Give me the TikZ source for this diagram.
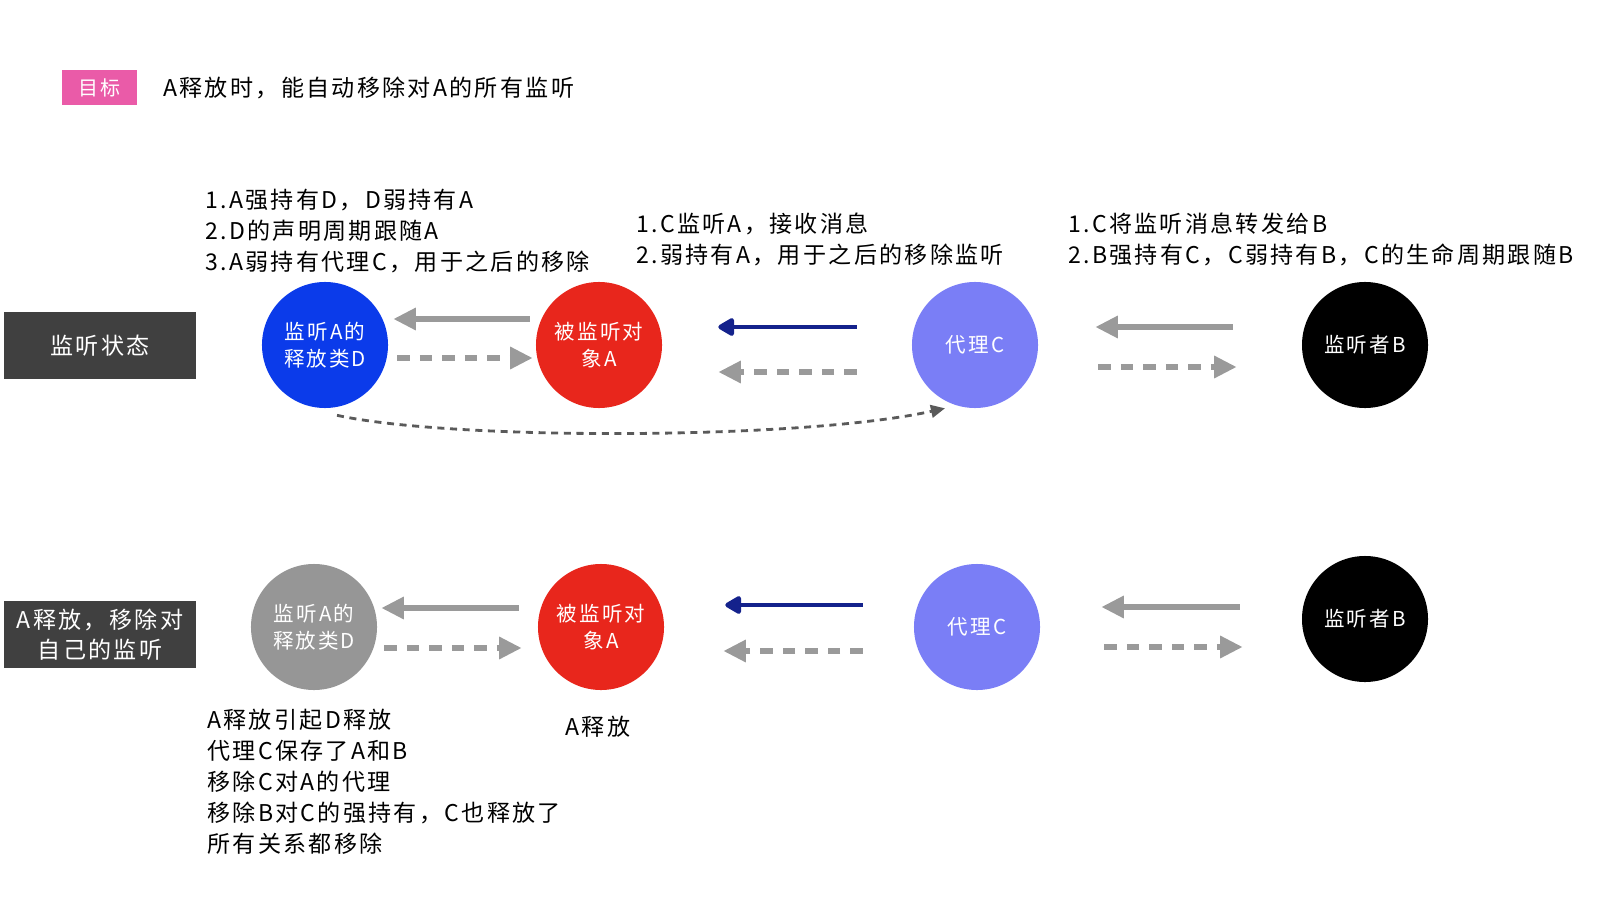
\documentclass[tikz,border=0pt]{standalone}
\usepackage{fontspec}
\setmainfont{Noto Sans CJK SC}[LetterSpace=10]
\usetikzlibrary{arrows.meta, calc}

\definecolor{goalpink}{HTML}{EA5BA8}
\definecolor{tagdark}{HTML}{404040}
\definecolor{holderblue}{HTML}{0B3BEA}
\definecolor{holdergray}{HTML}{969696}
\definecolor{sourcered}{HTML}{E8261C}
\definecolor{proxyblue}{HTML}{7A7EF6}
\definecolor{linkgray}{HTML}{9A9A9A}
\definecolor{listennavy}{HTML}{14228C}
\definecolor{backgray}{HTML}{5A5A5A}

\tikzset{
  ball/.style={circle, fill=#1, text=white, minimum size=3.15cm, inner sep=0pt, align=center,
    font=\fontsize{14.6}{19.5}\selectfont},
  tag/.style={fill=tagdark, text=white, minimum width=4.8cm, minimum height=1.675cm, align=center,
    font=\fontsize{16.4}{21.5}\selectfont},
  note/.style={anchor=north west, align=left, inner sep=0pt, font=\fontsize{16.4}{22.05}\selectfont},
  strong/.style={draw=linkgray, line width=4pt, -{Triangle[length=16pt,width=15pt]}},
  weak/.style={strong, dash pattern=on 9pt off 7pt},
  listen/.style={draw=listennavy, line width=3.5pt, -{Triangle[length=13pt,width=14pt,round]}},
  back/.style={draw=backgray, line width=2pt, dash pattern=on 5pt off 4pt, -{Triangle[length=10pt,width=9pt]}}
}

\begin{document}
\begin{tikzpicture}[x=0.025cm, y=-0.025cm]
  \useasboundingbox (0,0) rectangle (1600,900);

  % goal line
  \node[fill=goalpink, text=white, minimum width=1.875cm, minimum height=0.875cm,
    font=\fontsize{14.2}{17}\selectfont] (goal) at (99.5,87.5) {目标};
  \node[anchor=west, inner sep=0pt, font=\fontsize{16.4}{20}\selectfont] (aim) at (163,88)
    {A释放时，能自动移除对A的所有监听};

  % row tags
  \node[tag] (stateTag) at (100,345.5) {监听状态};
  \node[tag] (releaseTag) at (100,634.5) {A释放，移除对\\自己的监听};

  % listening state
  \node[ball=holderblue] (D) at (325,345) {监听A的\\释放类D};
  \node[ball=sourcered] (A) at (599,345) {被监听对\\象A};
  \node[ball=proxyblue] (C) at (975,345) {代理C};
  \node[ball=black] (B) at (1365,345) {监听者B};

  \node[note] (noteD) at (205,189) {1.A强持有D，D弱持有A\\2.D的声明周期跟随A\\3.A弱持有代理C，用于之后的移除};
  \node[note] (noteA) at (636,213) {1.C监听A，接收消息\\2.弱持有A，用于之后的移除监听};
  \node[note] (noteC) at (1068,213) {1.C将监听消息转发给B\\2.B强持有C，C弱持有B，C的生命周期跟随B};

  \draw[strong] ($(A.west)+(-6,-26)$) -- ($(D.east)+(5,-26)$);
  \draw[weak] ($(D.east)+(9,13)$) -- ($(A.west)+(-3,13)$);
  \draw[listen] ($(C.west)+(-55,-18)$) -- ($(A.east)+(56,-18)$);
  \draw[weak] ($(C.west)+(-55,27)$) -- ($(A.east)+(56,27)$);
  \draw[strong] ($(B.west)+(-69,-18)$) -- ($(C.east)+(57,-18)$);
  \draw[weak] ($(C.east)+(60,22)$) -- ($(B.west)+(-65,22)$);
  \draw[back] ($(D.south)+(12,7)$) .. controls +(113,25) and +(-145,32) .. ($(C.south)+(-30,0)$);

  % A released
  \node[ball=holdergray] (D2) at (314,627) {监听A的\\释放类D};
  \node[ball=sourcered] (A2) at (601,627) {被监听对\\象A};
  \node[ball=proxyblue] (C2) at (977,627) {代理C};
  \node[ball=black] (B2) at (1365,619) {监听者B};

  \draw[strong] ($(A2.west)+(-19,-19)$) -- ($(D2.east)+(4,-19)$);
  \draw[weak] ($(D2.east)+(7,21)$) -- ($(A2.west)+(-16,21)$);
  \draw[listen] ($(C2.west)+(-51,-22)$) -- ($(A2.east)+(61,-22)$);
  \draw[weak] ($(C2.west)+(-51,24)$) -- ($(A2.east)+(59,24)$);
  \draw[strong] ($(B2.west)+(-62,-12)$) -- ($(C2.east)+(61,-20)$);
  \draw[weak] ($(C2.east)+(64,20)$) -- ($(B2.west)+(-59,28)$);

  \node[inner sep=0pt, font=\fontsize{16.4}{20}\selectfont] (aGone) at (598,727) {A释放};
  \node[note] (noteEnd) at (207,709) {A释放引起D释放\\代理C保存了A和B\\移除C对A的代理\\移除B对C的强持有，C也释放了\\所有关系都移除};
\end{tikzpicture}
\end{document}
